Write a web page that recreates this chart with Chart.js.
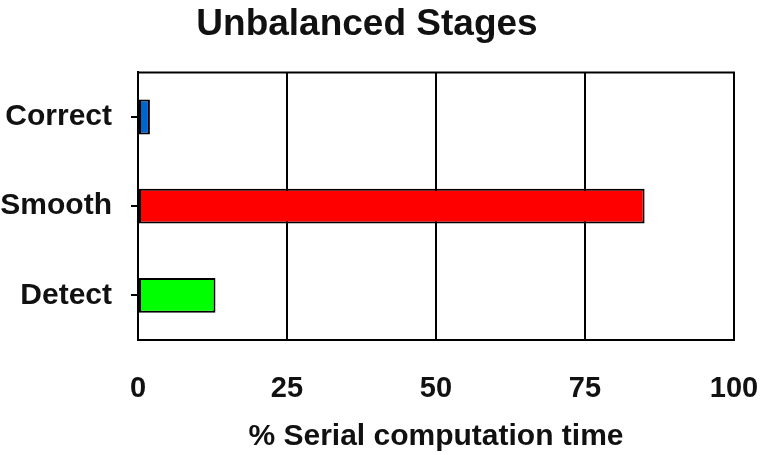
<!DOCTYPE html>
<html>
<head>
<meta charset="utf-8">
<script src="https://cdn.jsdelivr.net/npm/chart.js@4/dist/chart.umd.min.js"></script>
<style>
  html, body { margin: 0; padding: 0; background: #fff; }
  #wrap { width: 761px; height: 455px; }
</style>
</head>
<body>
<div id="wrap"><canvas id="myChart" width="761" height="455"></canvas></div>
<script>
// data
const stages = ['Correct', 'Smooth', 'Detect'];
const serialPct = [2, 85, 13];
const stageColors = ['#0066cc', '#ff0000', '#00ff00'];
const xTicks = [0, 25, 50, 75, 100];

const FONT = '"Liberation Sans", Arial, Helvetica, sans-serif';

// top and right frame lines of the plot box
const frame = {
  id: 'frame',
  afterDraw(chart) {
    const a = chart.chartArea;
    const ctx = chart.ctx;
    ctx.save();
    ctx.strokeStyle = '#000';
    ctx.lineWidth = 2;
    ctx.beginPath();
    ctx.moveTo(a.left, a.top);
    ctx.lineTo(a.right, a.top);
    ctx.lineTo(a.right, a.bottom);
    ctx.stroke();
    ctx.restore();
  }
};

const ctx = document.getElementById('myChart');
new Chart(ctx, {
  type: 'bar',
  data: {
    labels: stages,
    datasets: [{
      data: serialPct,
      backgroundColor: stageColors,
      borderColor: '#000',
      borderWidth: 2,
      borderSkipped: false,
      barPercentage: 0.39,
      categoryPercentage: 1
    }]
  },
  options: {
    indexAxis: 'y',
    responsive: false,
    animation: false,
    layout: { padding: { top: 0, right: 27, bottom: 0, left: 0 } },
    plugins: {
      legend: { display: false },
      tooltip: { enabled: false },
      title: {
        display: true,
        text: 'Unbalanced Stages',
        color: '#111',
        font: { family: FONT, size: 37, weight: 'bold' },
        padding: { top: 3, bottom: 25 }
      }
    },
    scales: {
      x: {
        min: 0,
        max: 100,
        afterBuildTicks(scale) {
          scale.ticks = xTicks.map(v => ({ value: v }));
        },
        afterFit(scale) {
          scale.height = 115;
          scale.paddingLeft = 0;
          scale.paddingRight = 0;
        },
        grid: { color: '#000', lineWidth: 2, drawTicks: false },
        border: { display: true, color: '#000', width: 2 },
        ticks: {
          color: '#111',
          padding: 32,
          font: { family: FONT, size: 29, weight: 'bold' }
        },
        title: {
          display: true,
          text: '% Serial computation time',
          color: '#111',
          font: { family: FONT, size: 30, weight: 'bold' },
          padding: { top: 0, bottom: 0 }
        }
      },
      y: {
        afterFit(scale) {
          scale.width = 138;
          scale.paddingTop = 0;
          scale.paddingBottom = 0;
        },
        grid: {
          drawOnChartArea: false,
          drawTicks: true,
          tickLength: 7,
          offset: false,
          color: '#000',
          lineWidth: 2
        },
        border: { display: true, color: '#000', width: 2 },
        ticks: {
          color: '#111',
          padding: 19,
          font: { family: FONT, size: 30, weight: 'bold' }
        }
      }
    }
  },
  plugins: [frame]
});
</script>
</body>
</html>
